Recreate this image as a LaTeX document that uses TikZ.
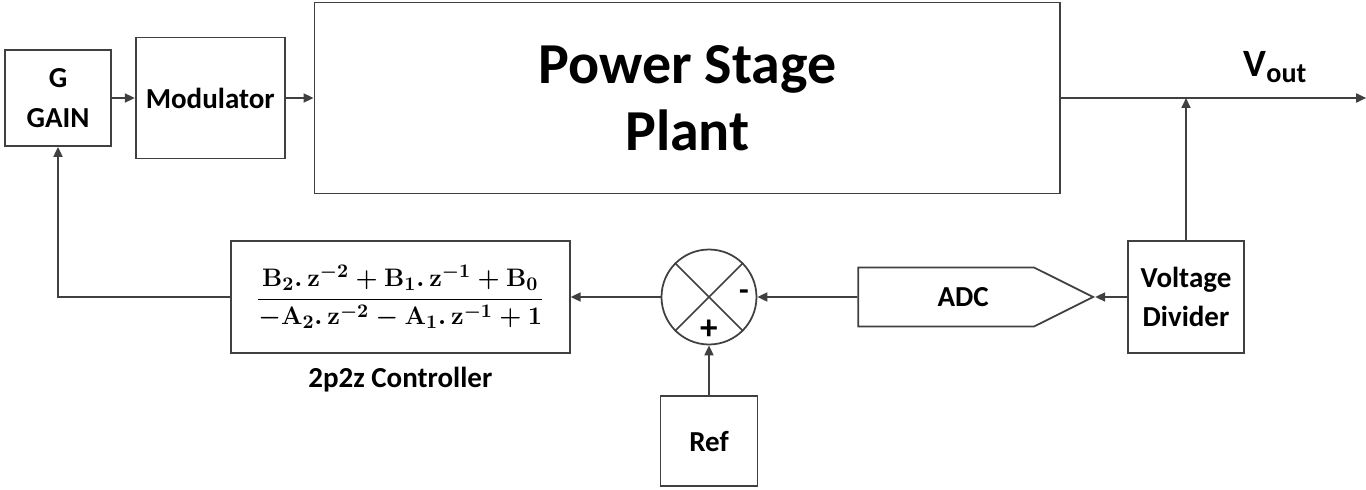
\documentclass[tikz,border=0pt]{standalone}
\usepackage[no-math]{fontspec}
\setmainfont{Carlito}
\usepackage{amsmath}
\usetikzlibrary{positioning,arrows.meta,shapes.symbols,calc}
\definecolor{linegray}{HTML}{404040}

\begin{document}
\begin{tikzpicture}[x=0.02cm,y=-0.02cm,
  blk/.style={draw=linegray,line width=1pt,align=center,inner sep=0pt,
    font=\fontsize{16.5}{22.5}\selectfont\bfseries},
  ln/.style={draw=linegray,line width=1pt},
  ar/.style={-{Triangle[length=2mm,width=1.8mm]}},
  node distance=5mm]
\useasboundingbox (0,0) rectangle (1366,490);
% forward path
\node[blk,minimum width=2.12cm,minimum height=1.92cm] (gain) at (58,98) {G\\GAIN};
\node[blk,minimum width=2.98cm,minimum height=2.42cm,right=0.46cm of gain] (mod) {Modulator};
\node[blk,minimum width=14.92cm,minimum height=3.82cm,right=0.56cm of mod,
  font=\fontsize{33}{38}\selectfont\bfseries] (plant) {Power Stage\\Plant};
\coordinate (vend) at ($(plant.east)+(305,0)$);
\node[font=\fontsize{22}{24}\selectfont\bfseries] (vout) at (1275,67)
  {V{\fontsize{16}{16}\selectfont\raisebox{-0.2em}{out}}};
% feedback path
\node[blk,minimum width=2.32cm,minimum height=2.24cm] (vdiv) at (1186,297) {Voltage\\Divider};
\node[blk,signal,signal to=east,signal pointer angle=53,minimum width=4.7cm,
  minimum height=1.18cm,left=0.64cm of vdiv] (adc) {\hspace*{0.68cm}ADC};
\node[draw=linegray,line width=1pt,circle,minimum size=1.9cm,inner sep=0pt,
  left=2cm of adc] (sum) {};
\draw[ln] (sum.45) -- (sum.225) (sum.135) -- (sum.315);
\node[font=\fontsize{18}{18}\selectfont\bfseries] (minus) at ($(sum.center)+(35,-2)$) {-};
\node[font=\fontsize{20}{20}\selectfont\bfseries] (plus) at ($(sum.center)+(0,33)$) {+};
\node[blk,minimum width=1.94cm,minimum height=1.8cm,below=1cm of sum] (ref) {Ref};
\node[blk,minimum width=6.78cm,minimum height=2.24cm,left=1.8cm of sum,
  font=\fontsize{15.5}{18}\selectfont\boldmath] (ctrl)
  {$\displaystyle\frac{\mathbf{B_2.\,z^{-2}+B_1.\,z^{-1}+B_0}}{\mathbf{-A_2.\,z^{-2}-A_1.\,z^{-1}+1}}$};
\node[font=\fontsize{16.5}{20}\selectfont\bfseries,inner sep=0pt,below=0.26cm of ctrl] (ctrlname) {2p2z Controller};
% connectors
\draw[ln,ar] (gain) -- (mod);
\draw[ln,ar] (mod) -- (plant);
\draw[ln,ar] (plant.east) -- (vend);
\draw[ln,ar] (vdiv.north) -- (vdiv.north |- plant.east);
\draw[ln,ar] (vdiv) -- (adc);
\draw[ln,ar] (adc) -- (sum);
\draw[ln,ar] (ref) -- (sum);
\draw[ln,ar] (sum) -- (ctrl);
\draw[ln,ar] (ctrl.west) -| (gain.south);
\end{tikzpicture}
\end{document}
